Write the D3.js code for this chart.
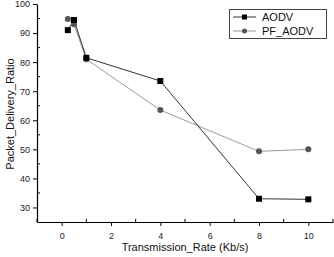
<!DOCTYPE html>
<html>
<head>
<meta charset="utf-8">
<script src="https://cdn.jsdelivr.net/npm/d3@7"></script>
<style>
  body { margin: 0; background: #fff; }
  text { font-family: "Liberation Sans", Arial, sans-serif; }
</style>
</head>
<body>
<div id="chart"></div>
<script>
// data
var rates = [0.25, 0.5, 1, 4, 8, 10];
var aodv = [91, 94.5, 81.5, 73.5, 33, 32.8];
var pfAodv = [94.8, 93, 81, 63.5, 49.3, 50];
var xTicks = [0, 2, 4, 6, 8, 10];
var yTicks = [30, 40, 50, 60, 70, 80, 90, 100];
var seriesNames = ["AODV", "PF_AODV"];

var width = 334, height = 257;

var svg = d3.select("#chart").append("svg")
    .attr("width", width)
    .attr("height", height);

var x = d3.scaleLinear().domain([-1, 11]).range([37, 333]);
var y = d3.scaleLinear().domain([25, 100]).range([222, 4]);

// minor ticks (inside)
svg.append("g")
    .selectAll("line")
    .data(d3.range(-1, 12, 1).filter(function(d) { return xTicks.indexOf(d) < 0; }))
    .enter().append("line")
      .attr("x1", x).attr("x2", x)
      .attr("y1", y(25)).attr("y2", y(25) - 3)
      .attr("stroke", "#000");

svg.append("g")
    .selectAll("line")
    .data([35, 45, 55, 65, 75, 85, 95])
    .enter().append("line")
      .attr("x1", x(-1)).attr("x2", x(-1) + 3)
      .attr("y1", y).attr("y2", y)
      .attr("stroke", "#000");

// axes
var xAxis = svg.append("g")
    .attr("transform", "translate(0," + y(25) + ")")
    .call(d3.axisBottom(x).tickValues(xTicks).tickSize(4).tickSizeOuter(0));

var yAxis = svg.append("g")
    .attr("transform", "translate(" + x(-1) + ",0)")
    .call(d3.axisLeft(y).tickValues(yTicks).tickSize(4).tickSizeOuter(0));

[xAxis, yAxis].forEach(function(a) {
  a.select(".domain").attr("stroke", "#000").attr("stroke-width", 1.2);
  a.selectAll(".tick line").attr("stroke", "#000");
  a.selectAll("text").attr("font-size", 9).attr("fill", "#222")
    .style("font-family", "'Liberation Sans', Arial, sans-serif");
});
xAxis.selectAll("text").attr("dy", "1.1em");

// axis titles
svg.append("text")
    .attr("x", 185).attr("y", 251)
    .attr("text-anchor", "middle")
    .attr("font-size", 11)
    .attr("fill", "#111")
    .text("Transmission_Rate (Kb/s)");

svg.append("text")
    .attr("transform", "translate(14,114)rotate(-90)")
    .attr("text-anchor", "middle")
    .attr("font-size", 11)
    .attr("fill", "#111")
    .text("Packet_Delivery_Ratio");

var line = d3.line()
    .x(function(d) { return x(d[0]); })
    .y(function(d) { return y(d[1]); });

var aodvPts = rates.map(function(r, i) { return [r, aodv[i]]; });
var pfPts = rates.map(function(r, i) { return [r, pfAodv[i]]; });

svg.append("path")
    .datum(pfPts)
    .attr("d", line)
    .attr("fill", "none")
    .attr("stroke", "#999")
    .attr("stroke-width", 1);

svg.append("path")
    .datum(aodvPts)
    .attr("d", line)
    .attr("fill", "none")
    .attr("stroke", "#333")
    .attr("stroke-width", 1);

svg.append("g")
    .selectAll("circle")
    .data(pfPts)
    .enter().append("circle")
      .attr("cx", function(d) { return x(d[0]); })
      .attr("cy", function(d) { return y(d[1]); })
      .attr("r", 3)
      .attr("fill", "#555");

svg.append("g")
    .selectAll("rect")
    .data(aodvPts)
    .enter().append("rect")
      .attr("x", function(d) { return x(d[0]) - 3; })
      .attr("y", function(d) { return y(d[1]) - 3; })
      .attr("width", 6).attr("height", 6)
      .attr("fill", "#000");

// legend
var legend = svg.append("g");
legend.append("rect")
    .attr("x", 229.5).attr("y", 9.5)
    .attr("width", 97).attr("height", 29)
    .attr("fill", "#fff")
    .attr("stroke", "#444");

var rows = legend.selectAll("g.row")
    .data(seriesNames)
    .enter().append("g")
      .attr("class", "row")
      .attr("transform", function(d, i) { return "translate(0," + (17 + i * 14) + ")"; });

rows.append("line")
    .attr("x1", 233).attr("x2", 256)
    .attr("stroke", function(d, i) { return i ? "#999" : "#333"; });

rows.each(function(d, i) {
  var g = d3.select(this);
  if (i === 0) {
    g.append("rect").attr("x", 242).attr("y", -2.5).attr("width", 5).attr("height", 5).attr("fill", "#000");
  } else {
    g.append("circle").attr("cx", 244.5).attr("cy", 0).attr("r", 2.5).attr("fill", "#555");
  }
});

rows.append("text")
    .attr("x", 262).attr("y", 4)
    .attr("font-size", 11)
    .attr("fill", "#111")
    .text(function(d) { return d; });
</script>
</body>
</html>
